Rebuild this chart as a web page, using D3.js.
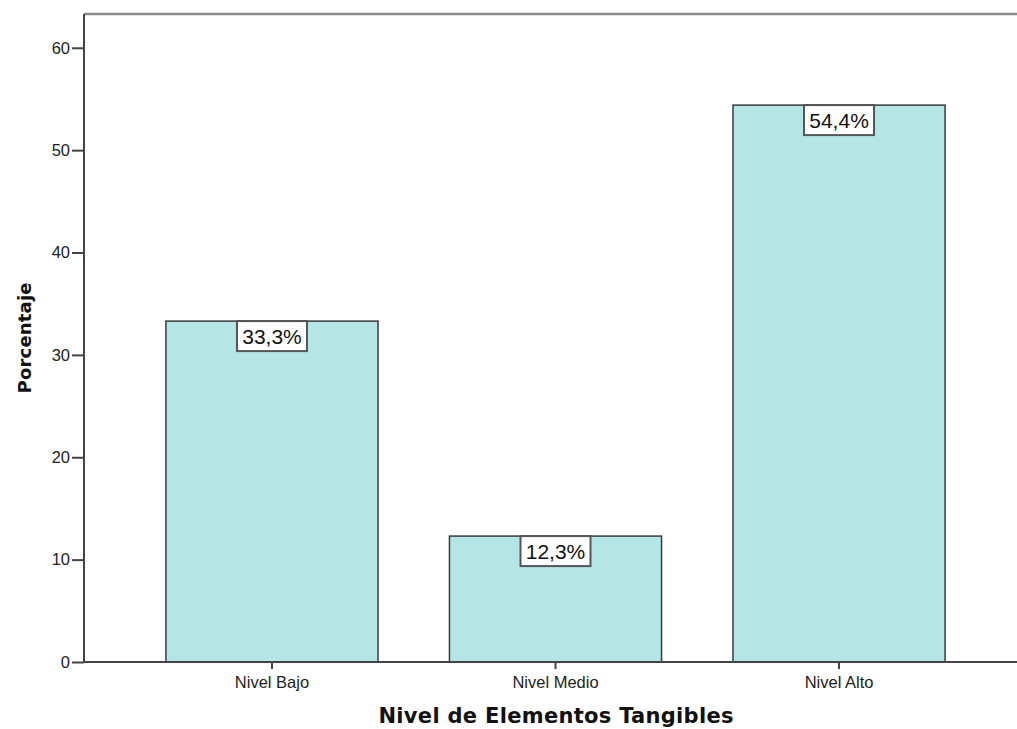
<!DOCTYPE html>
<html>
<head>
<meta charset="utf-8">
<script src="https://cdn.jsdelivr.net/npm/d3@7"></script>
<style>
  html, body { margin: 0; padding: 0; background: #fff; }
  svg { display: block; }
  text { font-family: "Liberation Sans", Arial, sans-serif; }
  .axis-title { font-family: "DejaVu Sans", Verdana, sans-serif; font-weight: bold; }
</style>
</head>
<body>
<svg id="chart" width="1017" height="729"></svg>
<script>
// Chart data
const categories = ["Nivel Bajo", "Nivel Medio", "Nivel Alto"];
const percentages = [33.3, 12.3, 54.4];
const yTicks = [0, 10, 20, 30, 40, 50, 60];

const svg = d3.select("#chart");
const W = 1017, H = 729;

const x = d3.scaleBand()
  .domain(categories)
  .range([84, 1027])
  .paddingInner(0.252)
  .paddingOuter(0.289);

const y = d3.scaleLinear()
  .domain([0, 63.3])
  .range([662, 14]);

const fmt = v => d3.format(".1f")(v).replace(".", ",") + "%";

// Top frame line
svg.append("line")
  .attr("x1", 84).attr("x2", W)
  .attr("y1", y(63.3)).attr("y2", y(63.3))
  .attr("stroke", "#8a8a8a").attr("stroke-width", 2.5);

// Bars
svg.append("g").selectAll("rect")
  .data(categories)
  .join("rect")
  .attr("x", d => x(d))
  .attr("y", (d, i) => y(percentages[i]))
  .attr("width", x.bandwidth())
  .attr("height", (d, i) => y(0) - y(percentages[i]))
  .attr("fill", "#b4e6e6")
  .attr("stroke", "#3a3a3a")
  .attr("stroke-width", 1.5);

// Y axis
const yAxis = svg.append("g")
  .attr("transform", "translate(84,0)")
  .call(d3.axisLeft(y).tickValues(yTicks).tickSize(12).tickPadding(2).tickFormat(d3.format("d")));
yAxis.select(".domain").attr("d", `M0,${y(63.3)}V${y(0)}`).attr("stroke", "#444").attr("stroke-width", 2);
yAxis.selectAll(".tick line").attr("stroke", "#444").attr("stroke-width", 2);
yAxis.selectAll(".tick text")
  .attr("font-size", 16.5).attr("fill", "#222")
  .style("font-family", "'Liberation Sans', Arial, sans-serif");

// X axis
const xAxis = svg.append("g")
  .attr("transform", `translate(0,${y(0)})`)
  .call(d3.axisBottom(x).tickSize(7).tickPadding(7));
xAxis.select(".domain").attr("d", `M84,0H${W}`).attr("stroke", "#444").attr("stroke-width", 2);
xAxis.selectAll(".tick line").attr("stroke", "#444").attr("stroke-width", 2);
xAxis.selectAll(".tick text")
  .attr("font-size", 16.5).attr("fill", "#222")
  .style("font-family", "'Liberation Sans', Arial, sans-serif");

// Value labels in boxes at bar tops
const labels = svg.append("g").selectAll("g")
  .data(categories)
  .join("g")
  .attr("transform", (d, i) => `translate(${x(d) + x.bandwidth() / 2},${y(percentages[i])})`);

labels.append("rect")
  .attr("x", -35).attr("y", 0)
  .attr("width", 70).attr("height", 30)
  .attr("fill", "#fff")
  .attr("stroke", "#555")
  .attr("stroke-width", 2);

labels.append("text")
  .attr("x", 0).attr("y", 23)
  .attr("text-anchor", "middle")
  .attr("font-size", 21)
  .attr("fill", "#111")
  .text((d, i) => fmt(percentages[i]));

// Axis titles
svg.append("text")
  .attr("class", "axis-title")
  .attr("x", 556).attr("y", 723)
  .attr("text-anchor", "middle")
  .attr("font-size", 21)
  .attr("textLength", 355)
  .attr("lengthAdjust", "spacing")
  .attr("fill", "#111")
  .text("Nivel de Elementos Tangibles");

svg.append("text")
  .attr("class", "axis-title")
  .attr("transform", "translate(31,338) rotate(-90)")
  .attr("text-anchor", "middle")
  .attr("font-size", 18)
  .attr("textLength", 111)
  .attr("lengthAdjust", "spacing")
  .attr("fill", "#111")
  .text("Porcentaje");
</script>
</body>
</html>
